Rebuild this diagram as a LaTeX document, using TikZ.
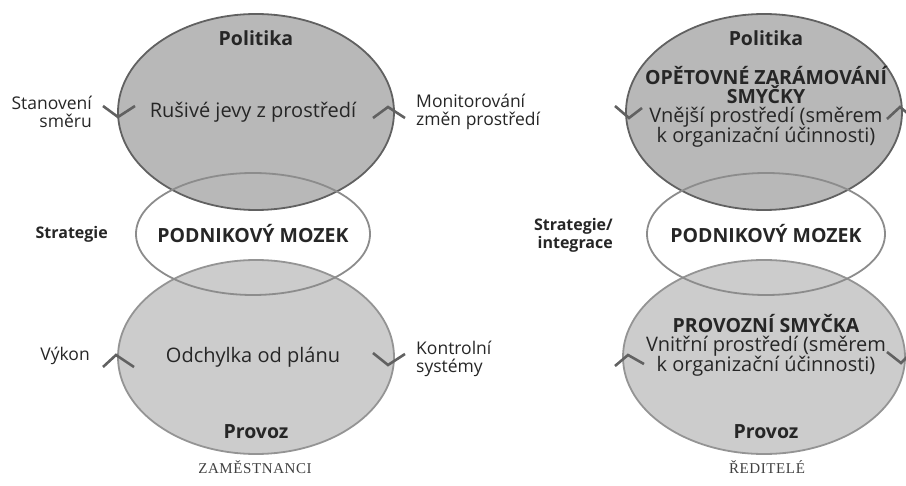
\documentclass[tikz,border=0pt]{standalone}
\usepackage{fontspec}
\setmainfont{Open Sans}
\newfontfamily\capsfont[LetterSpace=4]{Liberation Serif}
\begin{document}
\begin{tikzpicture}[x=1pt,y=-1pt,
  txt/.style={font=\fontsize{20}{19}\selectfont, text=black!85, inner sep=0pt},
  bold/.style={txt, font=\fontsize{19.5}{19}\selectfont\bfseries},
  side/.style={txt, font=\fontsize{17.5}{18}\selectfont},
  sidebold/.style={txt, font=\fontsize{16}{18}\selectfont\bfseries},
  bigloop/.style={draw=black!62, line width=1.8pt, fill=black!28},
  lowloop/.style={draw=black!42, line width=1.8pt, fill=black!20},
  brain/.style={draw=black!45, line width=1.8pt},
  chev/.style={draw=black!62, line width=2.6pt, line cap=butt, line join=miter},
  foot/.style={font=\capsfont\fontsize{15}{16}\selectfont, text=black!75, inner sep=0pt}]
\useasboundingbox (0,0) rectangle (906,486);

% ---------------- left diagram ----------------
\path[bigloop] (256,112) ellipse [x radius=138, y radius=98];
\path[lowloop] (256,357) ellipse [x radius=138, y radius=97];
\path[brain] (253,234) ellipse [x radius=117, y radius=61];

\node[bold] (lpol) at (256,38) {Politika};
\node[txt] (lrus) at (253,112) {Rušivé jevy z prostředí};
\node[side, align=right, anchor=east] (lsmer) at (92,112) {Stanovení\\směru};
\node[side, align=left, anchor=west] (lmon) at (416,112) {Monitorování\\změn prostředí};
\node[sidebold, anchor=east] (lstr) at (108,234) {Strategie};
\node[bold] (lmoz) at (253,234) {PODNIKOVÝ MOZEK};
\node[side, anchor=east] (lvyk) at (90,356) {Výkon};
\node[txt] (lodch) at (253,357) {Odchylka od plánu};
\node[side, align=left, anchor=west] (lkon) at (416,359) {Kontrolní\\systémy};
\node[bold] (lprov) at (256,432) {Provoz};
\node[foot] (lzam) at (255,467) {ZAMĚSTNANCI};

% flow chevrons on the loop rims
\draw[chev] (103,106) -- (118,117) -- (135,106);
\draw[chev] (373,118) -- (388,107) -- (405,118);
\draw[chev] (103,367) -- (116,355) -- (134,367);
\draw[chev] (373,353) -- (388,365) -- (405,354);

% ---------------- right diagram ----------------
\path[bigloop] (764,112) ellipse [x radius=138, y radius=98];
\path[lowloop] (764,357) ellipse [x radius=141, y radius=97];
\path[brain] (766,234) ellipse [x radius=119, y radius=61];

\node[bold] (rpol) at (766,38) {Politika};
\node[bold] (rref1) at (766,76) {OPĚTOVNÉ ZARÁMOVÁNÍ};
\node[bold] (rref2) at (766,95) {SMYČKY};
\node[txt] (renv1) at (766,117) {Vnější prostředí (směrem};
\node[txt] (renv2) at (766,137) {k organizační účinnosti)};
\node[sidebold, align=right, anchor=east] (rstr) at (613,235) {Strategie/\\integrace};
\node[bold] (rmoz) at (766,234) {PODNIKOVÝ MOZEK};
\node[bold] (rop) at (766,324) {PROVOZNÍ SMYČKA};
\node[txt] (rint1) at (766,346) {Vnitřní prostředí (směrem};
\node[txt] (rint2) at (766,366) {k organizační účinnosti)};
\node[bold] (rprov) at (766,432) {Provoz};
\node[foot] (rred) at (767,467) {ŘEDITELÉ};

\draw[chev] (615,106) -- (629,118) -- (642,108);
\draw[chev] (887,119) -- (900,107) -- (912,117);
\draw[chev] (615,366) -- (628,355) -- (644,364);
\draw[chev] (887,352) -- (901,363) -- (912,352);
\end{tikzpicture}
\end{document}
